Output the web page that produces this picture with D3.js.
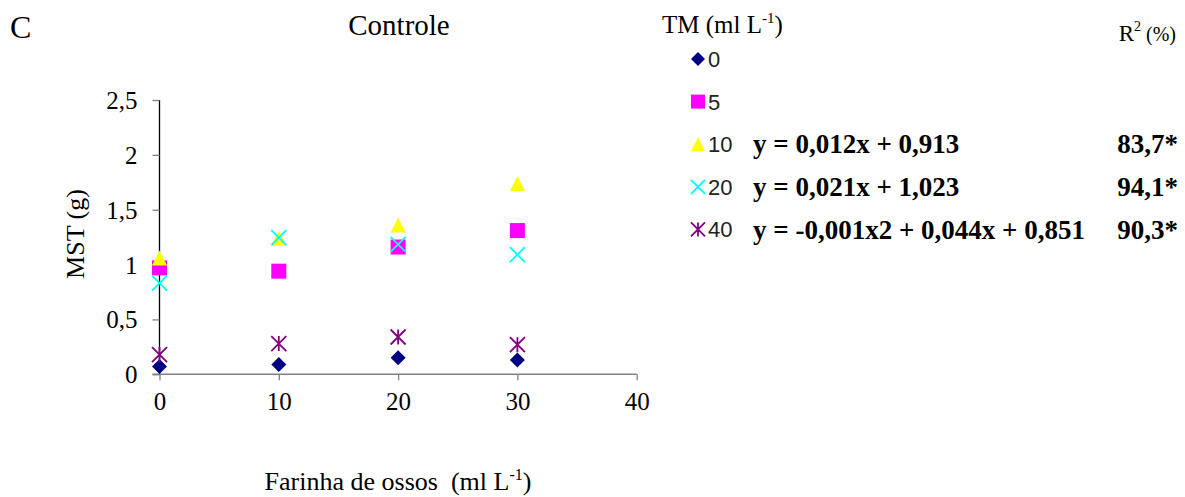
<!DOCTYPE html>
<html>
<head>
<meta charset="utf-8">
<script src="https://cdn.jsdelivr.net/npm/d3@7"></script>
<style>
  body { margin: 0; background: #fff; }
  svg text { font-family: "Liberation Serif", "Times New Roman", "DejaVu Serif", serif; fill: #000; }
</style>
</head>
<body>
<div id="chart"></div>
<script>
// dose of bone meal (x) and the five TM series
const doses = [0, 10, 20, 30];
const seriesNames = ["0", "5", "10", "20", "40"];
const mst0 = [0.07, 0.09, 0.15, 0.13];
const mst5 = [0.97, 0.94, 1.16, 1.31];
const mst10 = [1.06, 1.24, 1.36, 1.74];
const mst20 = [0.83, 1.245, 1.185, 1.09];
const mst40 = [0.18, 0.28, 0.34, 0.27];
const equations = ["", "", "y = 0,012x + 0,913", "y = 0,021x + 1,023", "y = -0,001x2 + 0,044x + 0,851"];
const r2 = ["", "", "83,7*", "94,1*", "90,3*"];
const xTicks = [0, 10, 20, 30, 40];
const yTicks = [0, 0.5, 1, 1.5, 2, 2.5];

const colors = ["#000080", "#ff00ff", "#ffff00", "#00ffff", "#800080"];
const shapes = ["diamond", "square", "triangle", "cross", "star"];

const serif = "'Liberation Serif', 'Times New Roman', serif";

const W = 1185, H = 497;
const svg = d3.select("#chart").append("svg")
  .attr("width", W).attr("height", H);

const x = d3.scaleLinear().domain([0, 40]).range([159.5, 636.7]);
const y = d3.scaleLinear().domain([0, 2.5]).range([374.3, 100]);

const fmt = d => String(d).replace(".", ",");

// axes
const yAxis = svg.append("g")
  .attr("transform", `translate(${x(0)},0)`)
  .call(d3.axisLeft(y).tickValues(yTicks).tickSize(7).tickPadding(15).tickFormat(fmt));
yAxis.select(".domain").attr("stroke", "#000").attr("stroke-width", 1.3).attr("d", `M0,${y(2.5)}V${y(0)}`);
yAxis.selectAll(".tick line").attr("stroke", "#808080").attr("stroke-width", 1.3);
yAxis.selectAll(".tick text").style("font-size", "25px").style("font-family", serif).attr("dy", "0.34em");

const xAxis = svg.append("g")
  .attr("transform", `translate(0,${y(0)})`)
  .call(d3.axisBottom(x).tickValues(xTicks).tickSize(6).tickPadding(12));
xAxis.select(".domain").attr("stroke", "#808080").attr("stroke-width", 1.5).attr("d", `M${x(0) - 7},0H${x(40)}`);
xAxis.selectAll(".tick line").attr("stroke", "#808080").attr("stroke-width", 1.3);
xAxis.selectAll(".tick text").style("font-size", "25px").style("font-family", serif).attr("dy", "0.71em");

// marker drawing
function marker(g, shape, color, s) {
  const h = s / 2;
  if (shape === "diamond") {
    g.append("path").attr("d", `M0,${-h}L${h},0L0,${h}L${-h},0Z`).attr("fill", color);
  } else if (shape === "square") {
    g.append("rect").attr("x", -h).attr("y", -h).attr("width", s).attr("height", s).attr("fill", color);
  } else if (shape === "triangle") {
    g.append("path").attr("d", `M0,${-h}L${h},${h}L${-h},${h}Z`).attr("fill", color);
  } else if (shape === "cross") {
    g.append("path").attr("d", `M${-h},${-h}L${h},${h}M${h},${-h}L${-h},${h}`)
      .attr("stroke", color).attr("stroke-width", 1.8).attr("fill", "none");
  } else {
    g.append("path").attr("d", `M${-h},${-h}L${h},${h}M${h},${-h}L${-h},${h}M0,${-h}V${h}`)
      .attr("stroke", color).attr("stroke-width", 1.8).attr("fill", "none");
  }
}

const allSeries = [mst0, mst5, mst10, mst20, mst40];
allSeries.forEach((vals, i) => {
  svg.append("g").selectAll("g")
    .data(vals)
    .join("g")
    .attr("transform", (d, j) => `translate(${x(doses[j])},${y(d)})`)
    .each(function () { marker(d3.select(this), shapes[i], colors[i], 15); });
});

// titles
svg.append("text").attr("x", 10).attr("y", 38).style("font-size", "32px").text("C");
svg.append("text").attr("x", 399).attr("y", 35).style("font-size", "29px")
  .attr("text-anchor", "middle").text("Controle");

svg.append("text").style("font-size", "26px").attr("text-anchor", "middle")
  .attr("transform", `translate(84,234) rotate(-90)`).text("MST (g)");

const xt = svg.append("text").attr("x", 398).attr("y", 490).style("font-size", "26px")
  .attr("text-anchor", "middle").attr("xml:space", "preserve");
xt.append("tspan").text("Farinha de ossos  (ml L");
xt.append("tspan").style("font-size", "16px").attr("dy", -10).text("-1");
xt.append("tspan").attr("dy", 10).text(")");

// legend
const lt = svg.append("text").attr("x", 662).attr("y", 33).style("font-size", "25px");
lt.append("tspan").text("TM (ml L");
lt.append("tspan").style("font-size", "15px").attr("dy", -10).text("-1");
lt.append("tspan").attr("dy", 10).text(")");

const rt = svg.append("text").attr("x", 1176).attr("y", 41).attr("text-anchor", "end").style("font-size", "23px");
rt.append("tspan").text("R");
rt.append("tspan").style("font-size", "14px").attr("dy", -10).text("2");
rt.append("tspan").attr("dy", 10).style("font-size", "20px").text(" (%)");

const rowY = i => 59 + i * 42.6;
const leg = svg.append("g").selectAll("g")
  .data(seriesNames)
  .join("g")
  .attr("transform", (d, i) => `translate(0,${rowY(i)})`);

leg.each(function (d, i) {
  const g = d3.select(this);
  marker(g.append("g").attr("transform", "translate(698,0)"), shapes[i], colors[i], 14);
  g.append("text").attr("x", 708).attr("dy", "0.36em")
    .style("font-size", "22px").style("font-family", "'Liberation Sans', sans-serif")
    .style("fill", "#222").text(d);
  g.append("text").attr("x", 753).attr("dy", "0.34em").style("font-size", "27px")
    .attr("font-weight", "bold").text(equations[i]);
  g.append("text").attr("x", 1178).attr("dy", "0.34em").style("font-size", "27px")
    .attr("font-weight", "bold").attr("text-anchor", "end").text(r2[i]);
});
</script>
</body>
</html>
